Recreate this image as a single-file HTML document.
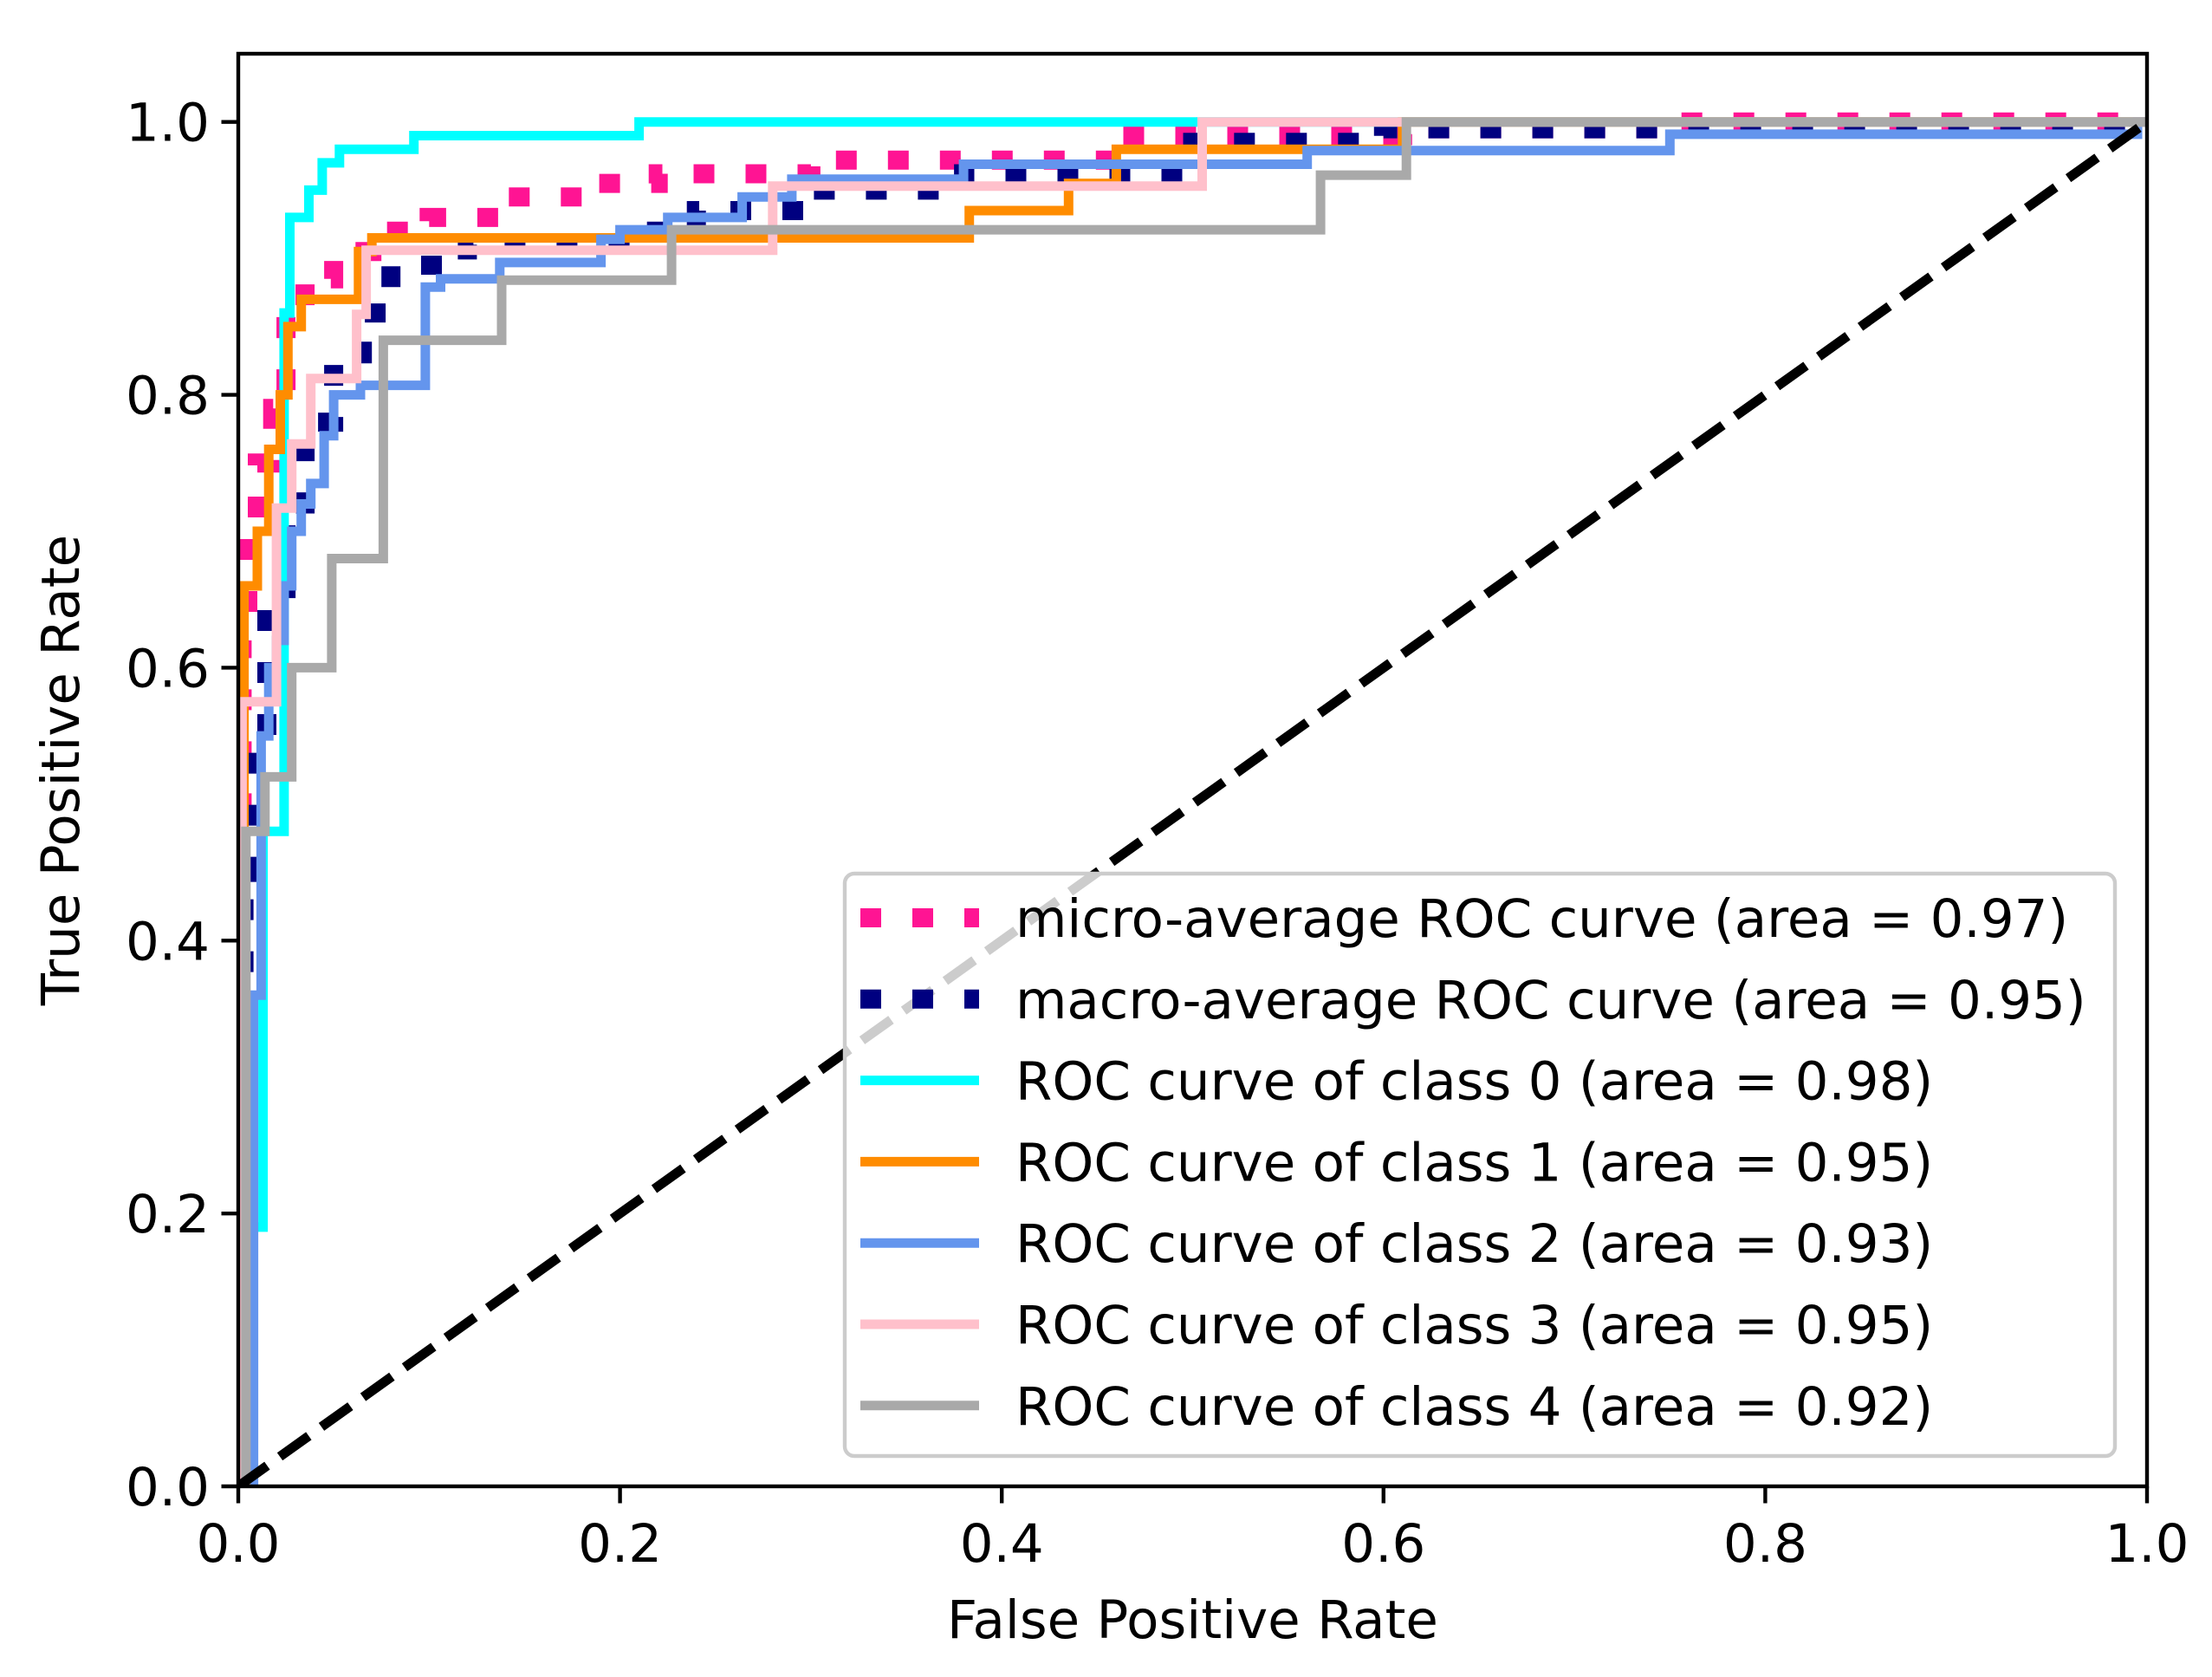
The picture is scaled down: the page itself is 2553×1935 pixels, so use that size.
<!DOCTYPE html>
<html><head><meta charset="utf-8"><style>
html,body{margin:0;padding:0;background:#fff;}
svg{display:block;}
text{font-family:"DejaVu Sans","Liberation Sans",sans-serif;fill:#000;}
</style></head><body>
<svg id="chart" width="2553" height="1935" viewBox="0 0 2553 1935">
<g id="curves"></g>
<g id="axes"></g>
<g id="legend"></g>
</svg>
<script>
const xTicks = [0, 0.2, 0.4, 0.6, 0.8, 1.0];
const yTicks = [0, 0.2, 0.4, 0.6, 0.8, 1.0];
const tickLabels = ["0.0","0.2","0.4","0.6","0.8","1.0"];
const microFpr = [0,0,0.002,0.002,0.005,0.005,0.01,0.01,0.018,0.018,0.025,0.025,0.035,0.035,0.05,0.05,0.07,0.07,0.1,0.1,0.14,0.14,0.18,0.18,0.22,0.22,0.3,0.3,0.46,0.46,0.61,0.61,0.75,0.75,1];
const microTpr = [0,0.5,0.5,0.62,0.62,0.71,0.71,0.75,0.75,0.79,0.79,0.85,0.85,0.885,0.885,0.905,0.905,0.92,0.92,0.93,0.93,0.945,0.945,0.955,0.955,0.962,0.962,0.972,0.972,0.99,0.99,0.995,0.995,1.0,1.0];
const macroFpr = [0,0.003,0.003,0.008,0.008,0.015,0.015,0.025,0.025,0.035,0.035,0.05,0.05,0.065,0.065,0.08,0.08,0.12,0.12,0.2,0.2,0.24,0.24,0.3,0.3,0.38,0.38,0.5,0.5,0.6,0.6,1];
const macroTpr = [0,0,0.45,0.45,0.55,0.55,0.65,0.65,0.72,0.72,0.78,0.78,0.83,0.83,0.86,0.86,0.895,0.895,0.91,0.91,0.92,0.92,0.935,0.935,0.95,0.95,0.962,0.962,0.985,0.985,0.995,0.995];
const fpr0 = [0,0.005,0.005,0.013,0.013,0.024,0.024,0.027,0.027,0.037,0.037,0.044,0.044,0.053,0.053,0.092,0.092,0.21,0.21,1];
const tpr0 = [0,0,0.19,0.19,0.48,0.48,0.86,0.86,0.93,0.93,0.95,0.95,0.97,0.97,0.98,0.98,0.99,0.99,1,1];
const fpr1 = [0,0.003,0.003,0.01,0.01,0.016,0.016,0.022,0.022,0.026,0.026,0.033,0.033,0.063,0.063,0.07,0.07,0.383,0.383,0.435,0.435,0.46,0.46,0.61,0.61,1];
const tpr1 = [0,0,0.66,0.66,0.70,0.70,0.76,0.76,0.80,0.80,0.85,0.85,0.87,0.87,0.905,0.905,0.915,0.915,0.935,0.935,0.955,0.955,0.98,0.98,1,1];
const fpr2 = [0,0.008,0.008,0.012,0.012,0.016,0.016,0.02,0.02,0.024,0.024,0.028,0.028,0.033,0.033,0.038,0.038,0.045,0.045,0.05,0.05,0.064,0.064,0.098,0.098,0.106,0.106,0.137,0.137,0.19,0.19,0.20,0.20,0.225,0.225,0.264,0.264,0.29,0.29,0.38,0.38,0.56,0.56,0.75,0.75,0.995,0.995,1];
const tpr2 = [0,0,0.36,0.36,0.55,0.55,0.60,0.60,0.62,0.62,0.66,0.66,0.70,0.70,0.72,0.72,0.735,0.735,0.77,0.77,0.80,0.80,0.807,0.807,0.879,0.879,0.885,0.885,0.897,0.897,0.914,0.914,0.921,0.921,0.93,0.93,0.945,0.945,0.958,0.958,0.969,0.969,0.979,0.979,0.991,0.991,1.0,1.0];
const fpr3 = [0,0.002,0.002,0.02,0.02,0.028,0.028,0.038,0.038,0.062,0.062,0.067,0.067,0.28,0.28,0.505,0.505,1];
const tpr3 = [0,0,0.575,0.575,0.717,0.717,0.764,0.764,0.812,0.812,0.859,0.859,0.906,0.906,0.953,0.953,1,1];
const fpr4 = [0,0.004,0.004,0.014,0.014,0.028,0.028,0.049,0.049,0.076,0.076,0.138,0.138,0.227,0.227,0.567,0.567,0.612,0.612,1];
const tpr4 = [0,0,0.48,0.48,0.52,0.52,0.60,0.60,0.68,0.68,0.84,0.84,0.884,0.884,0.921,0.921,0.961,0.961,1,1];
const labels = ["micro-average ROC curve (area = 0.97)","macro-average ROC curve (area = 0.95)","ROC curve of class 0 (area = 0.98)","ROC curve of class 1 (area = 0.95)","ROC curve of class 2 (area = 0.93)","ROC curve of class 3 (area = 0.95)","ROC curve of class 4 (area = 0.92)"];

const NS = "http://www.w3.org/2000/svg";
const L = 275, R = 2478, Y0 = 1715, YTOP = 62;
const yMax = 1.05;
const FS = 61;
function sx(v){ return L + v * (R - L); }
function sy(v){ return Y0 - v / yMax * (Y0 - YTOP); }
function mk(tag, attrs, parent){ const e = document.createElementNS(NS, tag); for (const k in attrs) e.setAttribute(k, attrs[k]); parent.appendChild(e); return e; }

const curves = document.getElementById('curves');
const series = [
  {f: microFpr, t: microTpr, c: "#ff1493", w: 22, d: "24 36", n: "micro-average-curve"},
  {f: macroFpr, t: macroTpr, c: "#000080", w: 22, d: "24 36", n: "macro-average-curve"},
  {f: fpr0, t: tpr0, c: "#00ffff", w: 11, d: null, n: "class-0-curve"},
  {f: fpr1, t: tpr1, c: "#ff8c00", w: 11, d: null, n: "class-1-curve"},
  {f: fpr2, t: tpr2, c: "#6495ed", w: 11, d: null, n: "class-2-curve"},
  {f: fpr3, t: tpr3, c: "#ffc0cb", w: 11, d: null, n: "class-3-curve"},
  {f: fpr4, t: tpr4, c: "#a9a9a9", w: 11, d: null, n: "class-4-curve"}
];
const clip = mk('clipPath', {id: 'ax-clip'}, mk('defs', {}, curves));
mk('rect', {x: L, y: YTOP, width: R - L, height: Y0 - YTOP}, clip);
series.forEach(s => {
  const pts = s.f.map((v, i) => sx(v).toFixed(1) + ',' + sy(s.t[i]).toFixed(1)).join(' ');
  const a = {points: pts, fill: 'none', stroke: s.c, 'stroke-width': s.w, 'stroke-linejoin': 'miter', 'clip-path': 'url(#ax-clip)'};
  if (s.d) a['stroke-dasharray'] = s.d;
  const p = mk('polyline', a, curves);
  
  
});
const diag = mk('line', {x1: sx(0), y1: sy(0), x2: sx(1), y2: sy(1), stroke: '#000', 'stroke-width': 11, 'stroke-dasharray': '41 18', 'clip-path': 'url(#ax-clip)'}, curves);



const axes = document.getElementById('axes');
const frame = mk('rect', {x: L, y: YTOP, width: R - L, height: Y0 - YTOP, fill: 'none', stroke: '#000', 'stroke-width': 4.4}, axes);


xTicks.forEach((v, i) => {
  mk('line', {x1: sx(v), y1: Y0, x2: sx(v), y2: Y0 + 19.5, stroke: '#000', 'stroke-width': 4.4}, axes);
  const t = mk('text', {x: sx(v), y: Y0 + 87, 'font-size': FS, 'text-anchor': 'middle'}, axes);
  t.textContent = tickLabels[i];
  
  
});
yTicks.forEach((v, i) => {
  mk('line', {x1: L - 19.5, y1: sy(v), x2: L, y2: sy(v), stroke: '#000', 'stroke-width': 4.4}, axes);
  const t = mk('text', {x: L - 33, y: sy(v) + 22, 'font-size': FS, 'text-anchor': 'end'}, axes);
  t.textContent = tickLabels[i];
  
  
});
const xt = mk('text', {x: (L + R) / 2, y: 1890, 'font-size': FS, 'text-anchor': 'middle'}, axes);
xt.textContent = 'False Positive Rate';


const yt = mk('text', {x: 0, y: 0, 'font-size': FS, 'text-anchor': 'middle', transform: 'translate(91,' + ((YTOP + Y0) / 2) + ') rotate(-90)'}, axes);
yt.textContent = 'True Positive Rate';



const leg = document.getElementById('legend');
const box = mk('rect', {x: 975, y: 1008, width: 1466, height: 672, rx: 11, fill: '#fff', 'fill-opacity': 0.8, stroke: '#cccccc', 'stroke-width': 4.4}, leg);


labels.forEach((lab, i) => {
  const y = 1059 + i * 93.8;
  const s = series[i];
  const h = mk('line', {x1: 993, y1: y, x2: 1130, y2: y, stroke: s.c, 'stroke-width': s.w}, leg);
  if (s.d) h.setAttribute('stroke-dasharray', s.d);
  
  
  const t = mk('text', {x: 1172, y: y + 22, 'font-size': FS}, leg);
  t.textContent = lab;
  
  
});
</script>
</body></html>
